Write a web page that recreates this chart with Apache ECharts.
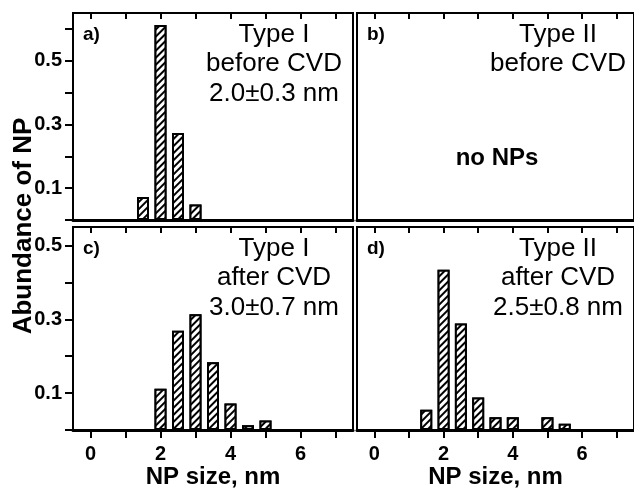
<!DOCTYPE html>
<html>
<head>
<meta charset="utf-8">
<script src="https://cdn.jsdelivr.net/npm/echarts@6/dist/echarts.min.js"></script>
<style>
html,body{margin:0;padding:0;background:#fff;}
#chart{width:634px;height:490px;}
</style>
</head>
<body>
<div id="chart"></div>
<script>
// ---- data ----
const sizeA = [1.5, 2.0, 2.5, 3.0];
const abundA = [0.072, 0.612, 0.273, 0.049];
const sizeB = [];
const abundB = [];
const sizeC = [2.0, 2.5, 3.0, 3.5, 4.0, 4.5, 5.0];
const abundC = [0.112, 0.269, 0.314, 0.184, 0.072, 0.013, 0.026];
const sizeD = [1.5, 2.0, 2.5, 3.0, 3.5, 4.0, 5.0, 5.5];
const abundD = [0.055, 0.434, 0.289, 0.088, 0.035, 0.035, 0.035, 0.017];
const xTicks = [0, 1, 2, 3, 4, 5, 6, 7];
const xTickLabels = [0, 2, 4, 6];
const yTicksTop = [0, 0.1, 0.2, 0.3, 0.4, 0.5, 0.6];
const yTicksBottom = [0, 0.1, 0.2, 0.3, 0.4, 0.5];
const yTickLabels = [0.1, 0.3, 0.5];
const panelLabels = ['a)', 'b)', 'c)', 'd)'];
const panelTexts = ['Type I\nbefore CVD\n2.0±0.3 nm', 'Type II\nbefore CVD', 'Type I\nafter CVD\n3.0±0.7 nm', 'Type II\nafter CVD\n2.5±0.8 nm'];
const xTitle = 'NP size, nm';
const yTitle = 'Abundance of NP';
const emptyNote = 'no NPs';

const FONT = '"Liberation Sans", Arial, sans-serif';
const chart = echarts.init(document.getElementById('chart'));

const grids = [
  {left: 73, top: 13, width: 280, height: 207},
  {left: 357, top: 13, width: 279, height: 207},
  {left: 73, top: 227, width: 280, height: 207},
  {left: 357, top: 227, width: 279, height: 207}
];
const yMax = [0.65, 0.65, 0.55, 0.55];
const sizes = [sizeA, sizeB, sizeC, sizeD];
const abunds = [abundA, abundB, abundC, abundD];

const decal = {
  symbol: 'rect', symbolSize: 1,
  dashArrayX: [1, 0], dashArrayY: [1.6, 2.4],
  rotation: -Math.PI / 4, color: '#000', backgroundColor: '#fff'
};

const xAxes = [], yAxes = [], series = [];
grids.forEach((g, i) => {
  const bottomRow = i >= 2, leftCol = (i % 2) === 0;
  xAxes.push({
    type: 'value', gridIndex: i, position: 'bottom', min: -0.5, max: 7.5,
    axisLine: {show: true, onZero: false, lineStyle: {color: '#000', width: 3}},
    axisTick: {show: bottomRow, customValues: xTicks, length: 8, lineStyle: {color: '#000', width: 2}},
    axisLabel: {show: bottomRow, customValues: xTickLabels, margin: 14,
      fontFamily: FONT, fontWeight: 'bold', fontSize: 20, color: '#000'},
    splitLine: {show: false},
    name: bottomRow ? xTitle : '', nameLocation: 'middle', nameGap: 31,
    nameTextStyle: {fontFamily: FONT, fontWeight: 'bold', fontSize: 24, color: '#000'}
  });
  xAxes.push({
    type: 'value', gridIndex: i, position: 'top', min: -0.5, max: 7.5,
    axisLine: {show: true, onZero: false, lineStyle: {color: '#000', width: 2}},
    axisTick: {show: true, inside: true, customValues: xTicks, length: 6, lineStyle: {color: '#000', width: 2}},
    axisLabel: {show: false},
    splitLine: {show: false}
  });
  yAxes.push({
    type: 'value', gridIndex: i, min: 0, max: yMax[i],
    axisLine: {show: true, onZero: false, lineStyle: {color: '#000', width: 2}},
    axisTick: {show: leftCol, customValues: i < 2 ? yTicksTop : yTicksBottom, length: 8, lineStyle: {color: '#000', width: 2}},
    axisLabel: {show: leftCol, customValues: yTickLabels, margin: 11,
      fontFamily: FONT, fontWeight: 'bold', fontSize: 20, color: '#000'},
    splitLine: {show: false}
  });
  series.push({
    type: 'bar', xAxisIndex: i * 2, yAxisIndex: i,
    data: sizes[i].map((s, k) => [s, abunds[i][k]]),
    barWidth: 12,
    itemStyle: {color: '#fff', borderColor: '#000', borderWidth: 2, decal: decal},
    emphasis: {disabled: true},
    silent: true
  });
});

const graphics = [];
grids.forEach((g, i) => {
  graphics.push({
    type: 'text', x: g.left + 10, y: g.top + 22,
    style: {text: panelLabels[i], font: 'bold 19px ' + FONT, fill: '#000', textAlign: 'left', textVerticalAlign: 'middle'}
  });
  graphics.push({
    type: 'text', x: g.left + 201, y: g.top + 7,
    style: {text: panelTexts[i], font: '26px ' + FONT, fill: '#000', textAlign: 'center', textVerticalAlign: 'top', lineHeight: 29.5}
  });
});
graphics.push({
  type: 'text', x: 497, y: 158,
  style: {text: emptyNote, font: 'bold 24px ' + FONT, fill: '#000', textAlign: 'center', textVerticalAlign: 'middle'}
});
graphics.push({
  type: 'text', x: 24, y: 226, rotation: Math.PI / 2,
  style: {text: yTitle, font: 'bold 26px ' + FONT, fill: '#000', textAlign: 'center', textVerticalAlign: 'middle'}
});

chart.setOption({
  animation: false,
  backgroundColor: '#fff',
  grid: grids.map(g => Object.assign({show: true, borderColor: '#000', borderWidth: 2, backgroundColor: '#fff', containLabel: false}, g)),
  xAxis: xAxes,
  yAxis: yAxes,
  series: series,
  graphic: graphics
});
</script>
</body>
</html>
